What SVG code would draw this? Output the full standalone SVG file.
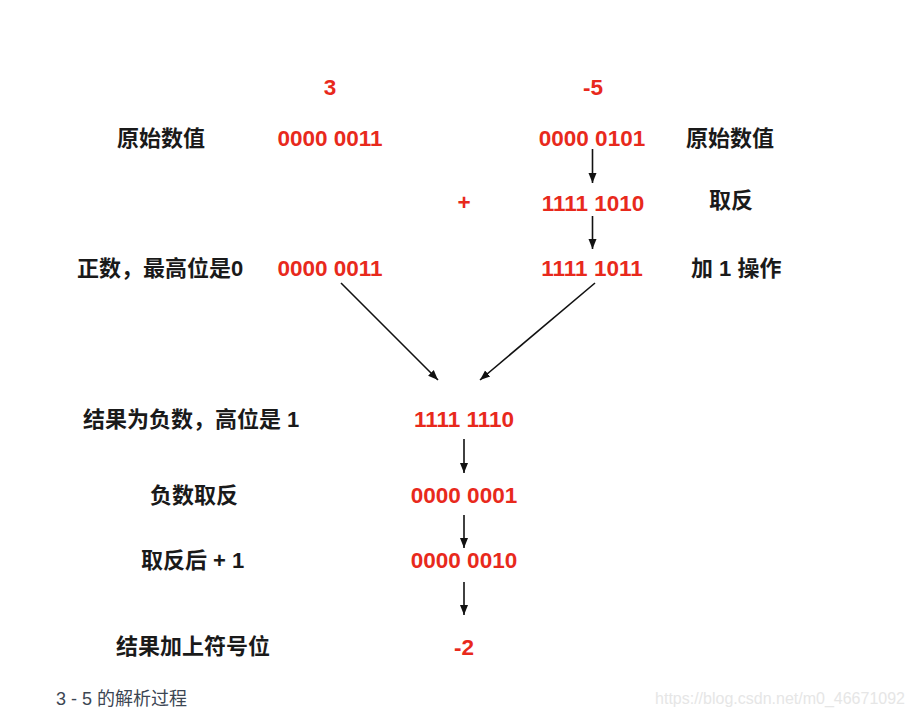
<svg xmlns="http://www.w3.org/2000/svg" width="915" height="717" viewBox="0 0 915 717">
<style>
.n{font-family:"Liberation Sans","Noto Sans CJK SC",sans-serif;font-weight:bold;font-size:22.5px;fill:#e8291c;text-anchor:middle}
.l{font-family:"Liberation Sans","Noto Sans CJK SC",sans-serif;font-weight:bold;font-size:22px;fill:#1a1a1a}
.c{stroke:#111;stroke-width:1.6;fill:none;marker-end:url(#ah)}
</style>
<defs>
<marker id="ah" markerUnits="userSpaceOnUse" markerWidth="10" markerHeight="10" viewBox="0 0 10 10" refX="10" refY="5" orient="auto">
<path d="M0,1 L10,5 L0,9 Z" fill="#111"/>
</marker>
</defs>
<rect width="915" height="717" fill="#fff"/>
<g id="headers">
<text class="n" x="330" y="95">3</text>
<text class="n" x="593" y="95">-5</text>
</g>
<g id="left-col">
<text class="l" x="117" y="146">原始数值</text>
<text class="n" x="330" y="146">0000 0011</text>
<text class="l" x="77" y="276">正数，最高位是0</text>
<text class="n" x="330" y="276">0000 0011</text>
</g>
<g id="right-col">
<text class="n" x="592" y="146">0000 0101</text>
<text class="l" x="686" y="146">原始数值</text>
<text class="n" x="464" y="210">+</text>
<text class="n" x="593" y="211">1111 1010</text>
<text class="l" x="709" y="208">取反</text>
<text class="n" x="592" y="276">1111 1011</text>
<text class="l" x="691" y="276">加 1 操作</text>
</g>
<g id="result">
<text class="l" x="83" y="427">结果为负数，高位是 1</text>
<text class="n" x="464" y="427">1111 1110</text>
<text class="l" x="150" y="503">负数取反</text>
<text class="n" x="464" y="503">0000 0001</text>
<text class="l" x="141" y="568">取反后 + 1</text>
<text class="n" x="464" y="568">0000 0010</text>
<text class="l" x="116" y="654">结果加上符号位</text>
<text class="n" x="464" y="655">-2</text>
</g>
<g id="connectors">
<line class="c" x1="592.5" y1="149" x2="592.5" y2="183"/>
<line class="c" x1="592.5" y1="216" x2="592.5" y2="249"/>
<line class="c" x1="341" y1="283" x2="438" y2="380"/>
<line class="c" x1="595" y1="283" x2="480" y2="380"/>
<line class="c" x1="464" y1="439" x2="464" y2="473"/>
<line class="c" x1="464" y1="515" x2="464" y2="548"/>
<line class="c" x1="464" y1="582" x2="464" y2="615"/>
</g>
<g id="caption">
<text x="56" y="705" style="font-family:'Liberation Sans','Noto Sans CJK SC',sans-serif;font-size:18px;fill:#3c4653">3 - 5 的解析过程</text>
<text x="905" y="704" style="font-family:'Liberation Sans',sans-serif;font-size:16px;fill:#e6e6e6;text-anchor:end">https://blog.csdn.net/m0_46671092</text>
</g>
</svg>
